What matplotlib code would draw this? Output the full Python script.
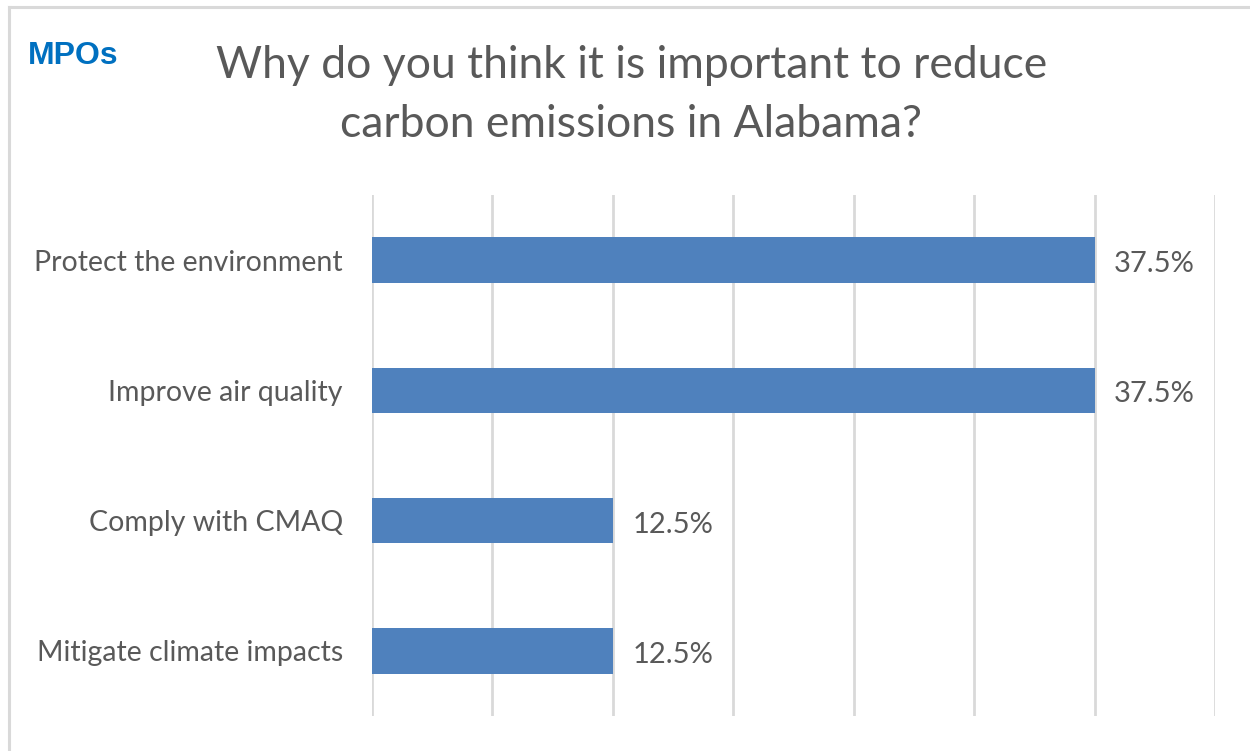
import numpy as np
import matplotlib
matplotlib.use("Agg")
from matplotlib import pyplot as plt
from matplotlib.lines import Line2D

# chart data
categories = ["Protect the environment", "Improve air quality",
              "Comply with CMAQ", "Mitigate climate impacts"]
values = [37.5, 37.5, 12.5, 12.5]
value_labels = ["37.5%", "37.5%", "12.5%", "12.5%"]
grid_ticks = [0, 6.25, 12.5, 18.75, 25, 31.25, 37.5, 43.75]

title = "Why do you think it is important to reduce\ncarbon emissions in Alabama?"
corner_label = "MPOs"

text_grey = "#595959"
bar_color = "#4F81BD"
grid_grey = "#D9D9D9"

plt.rcParams['font.family'] = ['Lato', 'DejaVu Sans']

fig = plt.figure(figsize=(12.5, 7.51), dpi=100)
ax = fig.add_axes([0.2976, 0.0466, 0.972 - 0.2976, 0.7403 - 0.0466])

y = np.arange(len(categories))
ax.barh(y, values, height=0.35, color=bar_color, zorder=3)

# value labels just past each bar
for yi, v, lab in zip(y, values, value_labels):
    ax.text(v + 1.0, yi + 0.03, lab, va='center', ha='left', fontsize=21, color=text_grey)

ax.set_xlim(grid_ticks[0], grid_ticks[-1])
ax.set_ylim(len(categories) - 0.5, -0.5)
ax.set_xticks(grid_ticks)
ax.set_xticklabels([])
ax.tick_params(axis='x', length=0)
ax.xaxis.grid(True, color=grid_grey, linewidth=2.0, zorder=0)
ax.set_axisbelow(True)

ax.set_yticks(y)
ax.set_yticklabels(categories, fontsize=20.5, color=text_grey)
ax.tick_params(axis='y', length=0, pad=21)
for s in ax.spines.values():
    s.set_visible(False)

# title and corner label
fig.text(0.505, 0.873, title, ha='center', va='center', fontsize=32,
         color=text_grey, linespacing=1.55)
fig.text(0.022, 0.925, corner_label, ha='left', va='center', fontsize=23,
         fontweight='bold', color="#0070C0", family=['Liberation Sans', 'DejaVu Sans'])

# frame around chart (only top and left visible in the crop)
fig.add_artist(Line2D([0.0072, 1.0], [0.9905, 0.9905], transform=fig.transFigure,
                      color=grid_grey, linewidth=2.2))
fig.add_artist(Line2D([0.0072, 0.0072], [0.0, 0.9905], transform=fig.transFigure,
                      color=grid_grey, linewidth=2.2))

fig.savefig("out.png", dpi=100, facecolor="white")
